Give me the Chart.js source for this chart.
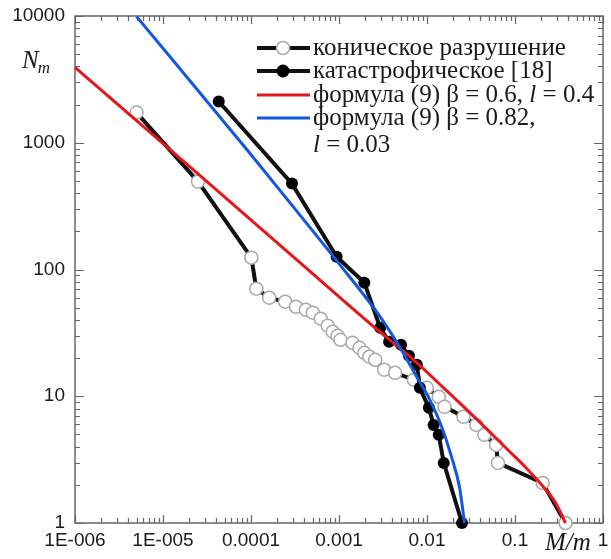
<!DOCTYPE html>
<html>
<head>
<meta charset="utf-8">
<script src="https://cdn.jsdelivr.net/npm/chart.js@4.4.1/dist/chart.umd.min.js"></script>
<style>
    html, body { margin: 0; padding: 0; background: #fff; }
</style>
</head>
<body>
<canvas id="chart" width="611" height="559"></canvas>
<script>
// оси
const xTickValues = [1e-6, 1e-5, 1e-4, 1e-3, 1e-2, 1e-1, 1];
const xTickLabels = ['1E-006', '1E-005', '0.0001', '0.001', '0.01', '0.1', '1'];
const yTickValues = [1, 10, 100, 1000, 10000];
const yTickLabels = ['1', '10', '100', '1000', '10000'];

// коническое разрушение
const coneX = [5.0e-6, 2.5e-5, 1.01e-4, 1.15e-4, 1.61e-4, 2.44e-4, 3.24e-4, 4.2e-4, 5.04e-4, 6.2e-4,
    7.45e-4, 8.48e-4, 9.65e-4, 1.04e-3, 1.42e-3, 1.71e-3, 1.94e-3, 2.21e-3, 2.58e-3, 3.26e-3,
    4.34e-3, 7.1e-3, 9.95e-3, 1.36e-2, 1.58e-2, 2.6e-2, 3.64e-2, 4.48e-2, 6.1e-2,
    6.4e-2, 0.206, 0.375];
const coneY = [1730, 494, 124, 70.5, 59.9, 55.7, 50.8, 48.1, 45.6, 40.9,
    36.0, 32.3, 30.0, 27.9, 26.4, 24.1, 22.0, 20.5, 19.4, 16.2,
    15.3, 13.5, 11.65, 9.9, 8.25, 6.88, 5.94, 4.96, 4.13,
    2.98, 2.07, 1];

// катастрофическое [18]
const catX = [4.3e-5, 2.92e-4, 9.4e-4, 1.94e-3, 2.94e-3, 3.71e-3, 5.07e-3, 6.24e-3, 7.67e-3, 8.3e-3,
    1.05e-2, 1.19e-2, 1.36e-2, 1.55e-2, 2.5e-2];
const catY = [2115, 476, 126, 78.7, 34.7, 26.9, 25.5, 20.9, 17.7, 11.65,
    8.1, 5.94, 4.96, 2.98, 1];

// формула (9) β = 0.6, l = 0.4
const redX = [1e-6, 2.56e-5, 3.42e-4, 2.72e-3, 6.4e-3, 1.545e-2, 3.64e-2, 8.55e-2, 0.134, 0.206, 0.290, 0.375];
const redY = [3926, 561, 117, 33.5, 20.5, 11.65, 6.63, 3.70, 2.72, 1.96, 1.44, 1];

// формула (9) β = 0.82, l = 0.03
const blueX = [4.99e-6, 9.35e-5, 4.79e-4, 9.64e-4, 2.72e-3, 4.57e-3, 7.67e-3, 1.076e-2, 1.47e-2, 1.90e-2, 2.34e-2, 2.67e-2];
const blueY = [9930, 852, 210, 115, 45.6, 26.4, 14.2, 9.37, 5.73, 3.32, 1.92, 1];

const toPoints = (xs, ys) => xs.map((x, i) => ({ x: x, y: ys[i] }));

const TEXT = '#1a1a1a';
const FRAME = '#666';
const SERIF = '"Liberation Serif", "DejaVu Serif", serif';
const SANS = '"Liberation Sans", Arial, sans-serif';

/**
 * Рамка и внутренние засечки на всех четырёх сторонах
 */
const framePlugin = {
    id: 'frame',
    beforeDatasetsDraw(chart) {
        const { ctx, chartArea: a, scales } = chart;
        ctx.save();
        ctx.strokeStyle = FRAME;
        ctx.lineWidth = 1.5;
        ctx.strokeRect(a.left, a.top, a.right - a.left, a.bottom - a.top);

        ctx.lineWidth = 1.2;
        ctx.beginPath();
        // x засечки
        for (let d = -6; d <= 0; d++) {
            for (let k = 1; k <= 9; k++) {
                const v = k * Math.pow(10, d);
                if (v > 1) break;
                const px = Math.round(scales.x.getPixelForValue(v)) + 0.5;
                const len = k === 1 ? 8 : 5;
                ctx.moveTo(px, a.bottom); ctx.lineTo(px, a.bottom - len);
                ctx.moveTo(px, a.top); ctx.lineTo(px, a.top + len);
            }
        }
        // y засечки
        for (let d = 0; d <= 4; d++) {
            for (let k = 1; k <= 9; k++) {
                const v = k * Math.pow(10, d);
                if (v > 10000) break;
                const py = Math.round(scales.y.getPixelForValue(v)) + 0.5;
                const len = k === 1 ? 9 : 5;
                ctx.moveTo(a.left, py); ctx.lineTo(a.left + len, py);
                ctx.moveTo(a.right, py); ctx.lineTo(a.right - len, py);
            }
        }
        ctx.stroke();
        ctx.restore();
    },
    afterDraw(chart) {
        const { ctx, scales } = chart;
        ctx.save();
        ctx.fillStyle = TEXT;

        // подписи делений
        ctx.font = '19px ' + SANS;
        ctx.textBaseline = 'middle';
        ctx.textAlign = 'center';
        xTickValues.forEach((v, i) => {
            const w = ctx.measureText(xTickLabels[i]).width;
            let px = scales.x.getPixelForValue(v);
            px = Math.min(px, chart.width - w / 2 - 1);
            ctx.fillText(xTickLabels[i], px, 541);
        });
        ctx.textAlign = 'right';
        yTickValues.forEach((v, i) => {
            ctx.fillText(yTickLabels[i], 65, scales.y.getPixelForValue(v));
        });

        // названия осей
        ctx.textBaseline = 'alphabetic';
        ctx.textAlign = 'left';
        ctx.font = 'italic 25px ' + SERIF;
        ctx.fillText('N', 22, 68);
        const nw = ctx.measureText('N').width;
        ctx.font = 'italic 17px ' + SERIF;
        ctx.fillText('m', 22 + nw - 1, 73);
        ctx.font = 'italic 25px ' + SERIF;
        ctx.fillText('M/m', 545, 550);

        drawLegend(ctx);
        ctx.restore();
    }
};

function drawRich(ctx, x, y, parts) {
    parts.forEach(([text, italic]) => {
        ctx.font = (italic ? 'italic ' : '') + '25px ' + SERIF;
        ctx.fillText(text, x, y);
        x += ctx.measureText(text).width;
    });
}

function drawLegend(ctx) {
    const x0 = 257, x1 = 310, xm = 283, tx = 313;
    const rows = [48, 71, 95, 118];
    ctx.textBaseline = 'middle';
    ctx.textAlign = 'left';
    ctx.lineCap = 'butt';

    // линии образцов
    [['#111', 4], ['#111', 4], ['#e8161b', 3], ['#1457df', 3]].forEach(([c, w], i) => {
        ctx.strokeStyle = c;
        ctx.lineWidth = w;
        ctx.beginPath();
        ctx.moveTo(x0, rows[i]); ctx.lineTo(x1, rows[i]);
        ctx.stroke();
    });
    ctx.beginPath();
    ctx.arc(xm, rows[0], 6.5, 0, Math.PI * 2);
    ctx.fillStyle = '#fff';
    ctx.fill();
    ctx.strokeStyle = '#a8a8a8';
    ctx.lineWidth = 1.5;
    ctx.stroke();
    ctx.beginPath();
    ctx.arc(xm, rows[1], 6.5, 0, Math.PI * 2);
    ctx.fillStyle = '#000';
    ctx.fill();

    ctx.fillStyle = TEXT;
    drawRich(ctx, tx, rows[0], [['коническое разрушение', false]]);
    drawRich(ctx, tx, rows[1], [['катастрофическое [18]', false]]);
    drawRich(ctx, tx, rows[2], [['формула (9) β = 0.6, ', false], ['l', true], [' = 0.4', false]]);
    drawRich(ctx, tx, rows[3], [['формула (9) β = 0.82,', false]]);
    drawRich(ctx, tx, 145, [['l', true], [' = 0.03', false]]);
}

const hiddenTicks = { display: false };

new Chart(document.getElementById('chart'), {
    type: 'line',
    data: {
        datasets: [
            {
                label: 'коническое разрушение',
                data: toPoints(coneX, coneY),
                borderColor: '#111',
                borderWidth: 4,
                pointRadius: 6.5,
                pointBackgroundColor: '#fff',
                pointBorderColor: '#a8a8a8',
                pointBorderWidth: 1.5,
                tension: 0,
                order: 3,
                clip: false,
            },
            {
                label: 'катастрофическое [18]',
                data: toPoints(catX, catY),
                borderColor: '#111',
                borderWidth: 4,
                pointRadius: 6,
                pointBackgroundColor: '#000',
                pointBorderColor: '#000',
                pointBorderWidth: 0,
                tension: 0,
                order: 2,
                clip: false,
            },
            {
                label: 'формула (9) β = 0.6, l = 0.4',
                data: toPoints(redX, redY),
                borderColor: '#e8161b',
                borderWidth: 3,
                pointRadius: 0,
                cubicInterpolationMode: 'monotone',
                order: 1,
                clip: false,
            },
            {
                label: 'формула (9) β = 0.82, l = 0.03',
                data: toPoints(blueX, blueY),
                borderColor: '#1457df',
                borderWidth: 3,
                pointRadius: 0,
                cubicInterpolationMode: 'monotone',
                order: 0,
                clip: false,
            },
        ],
    },
    options: {
        responsive: false,
        animation: false,
        devicePixelRatio: 1,
        layout: { padding: { top: 16, right: 3, left: 0, bottom: 0 } },
        plugins: {
            legend: { display: false },
            tooltip: { enabled: false },
        },
        scales: {
            x: {
                type: 'logarithmic',
                min: 1e-6,
                max: 1,
                grid: { display: false },
                border: { display: false },
                ticks: hiddenTicks,
                afterFit: s => { s.height = 36; },
            },
            y: {
                type: 'logarithmic',
                min: 1,
                max: 10000,
                grid: { display: false },
                border: { display: false },
                ticks: hiddenTicks,
                afterFit: s => { s.width = 75; },
            },
        },
    },
    plugins: [framePlugin],
});
</script>
</body>
</html>
